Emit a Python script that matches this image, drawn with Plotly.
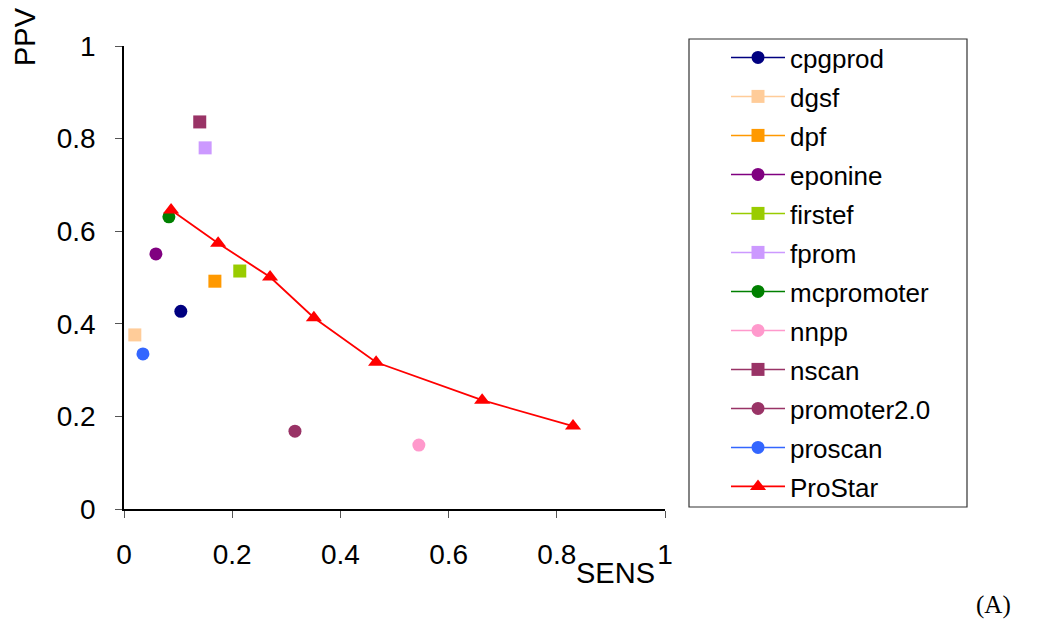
import plotly.graph_objects as go

names = ["cpgprod", "dgsf", "dpf", "eponine", "firstef", "fprom",
         "mcpromoter", "nnpp", "nscan", "promoter2.0", "proscan"]
sens = [0.105, 0.020, 0.168, 0.059, 0.214, 0.150, 0.083, 0.545, 0.140, 0.316, 0.035]
ppv = [0.427, 0.376, 0.492, 0.551, 0.514, 0.780, 0.631, 0.138, 0.836, 0.168, 0.335]
colors = ["#000080", "#FFCC99", "#FF9900", "#800080", "#99CC00", "#CC99FF",
          "#008000", "#FF99CC", "#993366", "#993366", "#3366FF"]
symbols = ["circle", "square", "square", "circle", "square", "square",
           "circle", "circle", "square", "circle", "circle"]

prostar_sens = [0.087, 0.174, 0.270, 0.351, 0.466, 0.662, 0.830]
prostar_ppv = [0.646, 0.574, 0.501, 0.413, 0.317, 0.235, 0.179]

tick_vals = [0, 0.2, 0.4, 0.6, 0.8, 1]
tick_text = ["0", "0.2", "0.4", "0.6", "0.8", "1"]

FONT = "Liberation Sans, Arial, sans-serif"
OFF = 8  # page body margin
W, H = 1040 - OFF, 633 - OFF
L, R, T, B = 124 - OFF, 665 - OFF, 46 - OFF, 509 - OFF  # plot area in figure px
PW, PH = R - L, B - T


def px(x):
    return (x - OFF - L) / PW


def py(y):
    return (B - (y - OFF)) / PH


fig = go.Figure()
for i, n in enumerate(names):
    fig.add_trace(go.Scatter(
        x=[sens[i]], y=[ppv[i]], name=n, mode="lines+markers",
        legendgroup=n,
        line=dict(color=colors[i], width=1.5),
        marker=dict(color=colors[i], symbol=symbols[i], size=13),
    ))
fig.add_trace(go.Scatter(
    x=prostar_sens, y=prostar_ppv, name="ProStar", mode="lines+markers",
    legendgroup="ProStar",
    line=dict(color="#FF0000", width=1.8),
    marker=dict(color="#FF0000", symbol="triangle-up", size=14),
))

fig.update_layout(
    width=W, height=H,
    margin=dict(l=L, r=W - R, t=T, b=H - B),
    paper_bgcolor="white", plot_bgcolor="white",
    font=dict(family=FONT, size=28, color="black"),
    showlegend=True,
    legend=dict(
        x=px(726), y=py(34), xanchor="left", yanchor="top",
        font=dict(family=FONT, size=26, color="black"),
        tracegroupgap=2.2,
        itemwidth=54,
        maxheight=600,
        bgcolor="rgba(0,0,0,0)",
    ),
    xaxis=dict(
        range=[0, 1], tickvals=tick_vals, ticktext=tick_text,
        showgrid=False, zeroline=False, showline=True, linecolor="black",
        linewidth=1.5, ticks="outside", ticklen=7, tickcolor="#555",
        ticklabelstandoff=13, fixedrange=True,
    ),
    yaxis=dict(
        range=[0, 1], tickvals=tick_vals, ticktext=tick_text,
        showgrid=False, zeroline=False, showline=True, linecolor="black",
        linewidth=1.5, ticks="outside", ticklen=7, tickcolor="#555",
        ticklabelstandoff=14, fixedrange=True,
    ),
    shapes=[dict(type="rect", xref="paper", yref="paper",
                 x0=px(689), x1=px(967), y0=py(507), y1=py(39),
                 line=dict(color="#333", width=1.2))],
    annotations=[
        dict(text="SENS", xref="paper", yref="paper",
             x=px(615), y=py(573), xanchor="center", yanchor="middle",
             showarrow=False, font=dict(family=FONT, size=29)),
        dict(text="PPV", xref="paper", yref="paper",
             x=px(25), y=py(37), textangle=-90,
             xanchor="center", yanchor="middle",
             showarrow=False, font=dict(family=FONT, size=29)),
        dict(text="(A)", xref="paper", yref="paper",
             x=px(993), y=py(605), xanchor="center", yanchor="middle",
             showarrow=False,
             font=dict(family="Liberation Serif, Times New Roman, serif", size=25)),
    ],
)

fig.write_html("out.html")
